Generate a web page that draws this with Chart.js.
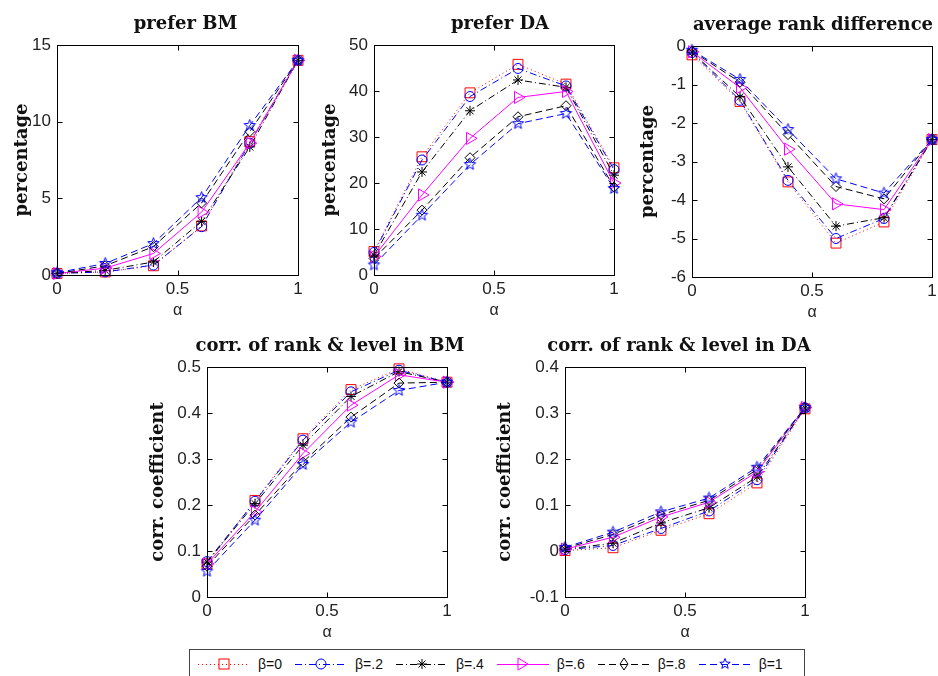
<!DOCTYPE html>
<html>
<head>
<meta charset="utf-8">
<script src="https://cdn.jsdelivr.net/npm/chart.js@4.4.1/dist/chart.umd.min.js"></script>
<style>
  html, body { margin: 0; padding: 0; background: #fff; overflow: hidden; }
  body { width: 938px; height: 676px; position: relative; }
  .panel { position: absolute; }
  #legend {
    position: absolute; left: 189px; top: 649px; width: 606px; height: 32px;
    border: 1px solid #444; background: #fff; box-sizing: content-box;
    display: flex; align-items: flex-start; padding-top: 6px; padding-left: 8px;
    font-family: 'Liberation Sans', Arial, sans-serif; font-size: 14px; color: #111;
  }
  #legend .item { display: flex; align-items: center; margin-right: 13px; height: 16px; }
  #legend .item span { margin-left: 8px; }
</style>
</head>
<body>
<div id="legend"></div>
<script>
// x axis values (alpha)
const alpha = [0, 0.2, 0.4, 0.6, 0.8, 1];
const betaLabels = ['β=0', 'β=.2', 'β=.4', 'β=.6', 'β=.8', 'β=1'];

// prefer BM (percentage), one row per beta
const preferBM = [
  [0.10, 0.20, 0.60, 3.20, 8.70, 14.0],
  [0.10, 0.20, 0.65, 3.15, 8.60, 14.0],
  [0.10, 0.30, 0.85, 3.50, 8.35, 14.0],
  [0.10, 0.45, 1.40, 4.10, 8.60, 14.0],
  [0.10, 0.60, 1.85, 4.70, 9.35, 14.0],
  [0.15, 0.75, 2.05, 5.05, 9.75, 14.0]
];

// prefer DA (percentage)
const preferDA = [
  [5.1, 25.7, 39.6, 45.8, 41.5, 23.3],
  [4.9, 25.0, 38.8, 44.9, 41.1, 22.9],
  [4.3, 22.4, 35.7, 42.4, 40.8, 21.7],
  [4.0, 17.4, 29.7, 38.6, 39.9, 20.0],
  [3.6, 14.1, 25.5, 34.4, 36.8, 19.1],
  [2.2, 13.0, 24.0, 32.9, 35.1, 18.8]
];

// average rank difference
const rankDiff = [
  [-0.23, -1.44, -3.53, -5.12, -4.57, -2.43],
  [-0.17, -1.41, -3.49, -5.00, -4.48, -2.43],
  [-0.16, -1.32, -3.14, -4.68, -4.46, -2.43],
  [-0.15, -1.08, -2.68, -4.10, -4.25, -2.43],
  [-0.13, -0.94, -2.30, -3.65, -3.97, -2.43],
  [-0.11, -0.87, -2.17, -3.45, -3.82, -2.43]
];

// corr. of rank & level in BM
const corrBM = [
  [0.072, 0.210, 0.344, 0.451, 0.496, 0.467],
  [0.077, 0.208, 0.341, 0.446, 0.493, 0.467],
  [0.076, 0.203, 0.330, 0.436, 0.490, 0.467],
  [0.072, 0.185, 0.312, 0.417, 0.483, 0.467],
  [0.067, 0.178, 0.293, 0.391, 0.465, 0.467],
  [0.056, 0.167, 0.288, 0.380, 0.449, 0.467]
];

// corr. of rank & level in DA
const corrDA = [
  [0.001, 0.007, 0.045, 0.081, 0.148, 0.309],
  [0.003, 0.012, 0.049, 0.087, 0.155, 0.311],
  [0.004, 0.017, 0.061, 0.094, 0.161, 0.311],
  [0.004, 0.030, 0.074, 0.106, 0.172, 0.312],
  [0.006, 0.036, 0.079, 0.110, 0.177, 0.312],
  [0.008, 0.041, 0.085, 0.115, 0.182, 0.312]
];

// star marker (pentagram) like matlab 'p'
function makePentagram(color, r) {
  const c = document.createElement('canvas');
  const s = Math.ceil(2 * r + 3);
  c.width = s; c.height = s;
  const g = c.getContext('2d');
  g.strokeStyle = color;
  g.lineWidth = 1;
  g.beginPath();
  for (let i = 0; i < 10; i++) {
    const a = -Math.PI / 2 + i * Math.PI / 5;
    const rr = i % 2 ? r * 0.42 : r;
    const px = s / 2 + rr * Math.cos(a), py = s / 2 + rr * Math.sin(a);
    if (i === 0) g.moveTo(px, py); else g.lineTo(px, py);
  }
  g.closePath();
  g.stroke();
  return c;
}

const styles = [
  { color: '#ff0000', dash: [1, 3], point: 'rect', r: 7, rot: 0 },
  { color: '#0000ff', dash: [7, 3, 1, 3], point: 'circle', r: 5, rot: 0 },
  { color: '#000000', dash: [7, 3, 1, 3], point: 'star', r: 5, rot: 0 },
  { color: '#ff00ff', dash: [], point: 'triangle', r: 7, rot: 90 },
  { color: '#000000', dash: [7, 4], point: 'rectRot', r: 5, rot: 0 },
  { color: '#0000ff', dash: [7, 4], point: makePentagram('#0000ff', 6), r: 6, rot: 0 }
];

const TITLE_H = 32;  // title line 22 + bottom padding 10
const XAX_H = 46;

const panels = [
  { title: 'prefer BM', ylabel: 'percentage', data: preferBM, ymin: 0, ymax: 15, ystep: 5,
    pl: 57, pt: 45, w: 241, h: 230, W: 46, dx: 8 },
  { title: 'prefer DA', ylabel: 'percentage', data: preferDA, ymin: 0, ymax: 50, ystep: 10,
    pl: 374, pt: 45, w: 240, h: 230, W: 55, dx: 6 },
  { title: 'average rank difference', ylabel: 'percentage', data: rankDiff, ymin: -6, ymax: 0, ystep: 1,
    pl: 692, pt: 46, w: 240, h: 231, W: 55, dx: 1 },
  { title: 'corr. of rank & level in BM', ylabel: 'corr. coefficient', data: corrBM, ymin: 0, ymax: 0.5, ystep: 0.1,
    pl: 207, pt: 367, w: 240, h: 230, W: 60, dx: 3 },
  { title: 'corr. of rank & level in DA', ylabel: 'corr. coefficient', data: corrDA, ymin: -0.1, ymax: 0.4, ystep: 0.1,
    pl: 565, pt: 367, w: 240, h: 230, W: 71, dx: -6 }
];

// matlab style box with inward ticks on all four sides
const boxPlugin = {
  id: 'matlabBox',
  afterDraw(chart) {
    const ctx = chart.ctx;
    const a = chart.chartArea;
    const xs = chart.scales.x, ys = chart.scales.y;
    const L = Math.round(a.left) + 0.5, R = Math.round(a.right) + 0.5;
    const T = Math.round(a.top) + 0.5, B = Math.round(a.bottom) + 0.5;
    ctx.save();
    ctx.strokeStyle = '#000';
    ctx.lineWidth = 1;
    ctx.strokeRect(L, T, R - L, B - T);
    ctx.beginPath();
    xs.ticks.forEach(t => {
      const px = Math.round(xs.getPixelForValue(t.value)) + 0.5;
      ctx.moveTo(px, B); ctx.lineTo(px, B - 5);
      ctx.moveTo(px, T); ctx.lineTo(px, T + 5);
    });
    ys.ticks.forEach(t => {
      const py = Math.round(ys.getPixelForValue(t.value)) + 0.5;
      ctx.moveTo(L, py); ctx.lineTo(L + 5, py);
      ctx.moveTo(R, py); ctx.lineTo(R - 5, py);
    });
    ctx.stroke();
    ctx.restore();
  }
};

Chart.defaults.font.family = "'Liberation Sans', Arial, sans-serif";
Chart.defaults.font.size = 17;
Chart.defaults.color = '#222';

const fmt = v => String(Math.round(v * 100) / 100);

panels.forEach(function (p) {
  const R = p.W + 2 * p.dx;
  const div = document.createElement('div');
  div.className = 'panel';
  div.style.left = (p.pl - p.W) + 'px';
  div.style.top = (p.pt - TITLE_H) + 'px';
  const cv = document.createElement('canvas');
  cv.width = p.W + p.w + R;
  cv.height = TITLE_H + p.h + XAX_H;
  div.appendChild(cv);
  document.body.appendChild(div);

  const datasets = p.data.map(function (vals, i) {
    const s = styles[i];
    return {
      label: betaLabels[i],
      data: alpha.map((a, j) => ({ x: a, y: vals[j] })),
      borderColor: s.color,
      borderWidth: 1,
      borderDash: s.dash,
      pointStyle: s.point,
      pointRadius: s.r,
      pointRotation: s.rot,
      pointBorderColor: s.color,
      pointBackgroundColor: 'rgba(0,0,0,0)',
      pointBorderWidth: 1,
      tension: 0,
      clip: false,
      order: 5 - i
    };
  });

  new Chart(cv, {
    type: 'line',
    data: { datasets: datasets },
    options: {
      responsive: false,
      animation: false,
      layout: { padding: 0 },
      plugins: {
        legend: { display: false },
        tooltip: { enabled: false },
        title: {
          display: true,
          text: p.title,
          color: '#111',
          font: { family: "'DejaVu Serif', serif", weight: 'bold', size: 18, lineHeight: '22px' },
          padding: { top: 0, bottom: 10 }
        }
      },
      scales: {
        x: {
          type: 'linear', min: 0, max: 1,
          grid: { display: false, drawTicks: false }, border: { display: false },
          ticks: { stepSize: 0.5, padding: 4, color: '#222', callback: fmt },
          title: { display: true, text: 'α', padding: 0, color: '#222',
                   font: { size: 16, lineHeight: '20px' } },
          afterFit: function (s) { s.height = XAX_H; }
        },
        y: {
          type: 'linear', position: 'left', min: p.ymin, max: p.ymax,
          grid: { display: false, drawTicks: false }, border: { display: false },
          ticks: { stepSize: p.ystep, padding: 6, color: '#222', callback: fmt },
          title: { display: true, text: p.ylabel, padding: 0, color: '#111',
                   font: { family: "'DejaVu Serif', serif", weight: 'bold', size: 18, lineHeight: '22px' } },
          afterFit: function (s) { s.width = p.W; }
        },
        yr: {
          type: 'linear', position: 'right', display: true,
          grid: { display: false, drawTicks: false }, border: { display: false },
          ticks: { display: false },
          afterFit: function (s) { s.width = R; }
        }
      }
    },
    plugins: [boxPlugin]
  });
});

// shared legend along the bottom
function legendSample(s) {
  const c = s.color;
  const dash = s.dash.length ? s.dash.join(',') : 'none';
  let mk = '';
  if (s.point === 'rect') mk = '<rect x="21" y="2" width="10" height="10" fill="none" stroke="' + c + '"/>';
  else if (s.point === 'circle') mk = '<circle cx="26" cy="7" r="5" fill="none" stroke="' + c + '"/>';
  else if (s.point === 'star') mk = '<path d="M21 7H31M26 2V12M22.5 3.5L29.5 10.5M29.5 3.5L22.5 10.5" stroke="' + c + '"/>';
  else if (s.point === 'triangle') mk = '<polygon points="21,1 31,7 21,13" fill="none" stroke="' + c + '"/>';
  else if (s.point === 'rectRot') mk = '<polygon points="26,1 30,7 26,13 22,7" fill="none" stroke="' + c + '"/>';
  else {
    let pts = [];
    for (let i = 0; i < 10; i++) {
      const a = -Math.PI / 2 + i * Math.PI / 5;
      const rr = i % 2 ? 2.3 : 5.5;
      pts.push((26 + rr * Math.cos(a)).toFixed(1) + ',' + (7 + rr * Math.sin(a)).toFixed(1));
    }
    mk = '<polygon points="' + pts.join(' ') + '" fill="none" stroke="' + c + '"/>';
  }
  return '<svg width="52" height="14" viewBox="0 0 52 14"><line x1="0" y1="7.5" x2="52" y2="7.5" stroke="' + c +
    '" stroke-width="1" stroke-dasharray="' + dash + '"/>' + mk + '</svg>';
}

document.getElementById('legend').innerHTML = betaLabels.map(function (lb, i) {
  return '<div class="item">' + legendSample(styles[i]) + '<span>' + lb + '</span></div>';
}).join('');
</script>
</body>
</html>
